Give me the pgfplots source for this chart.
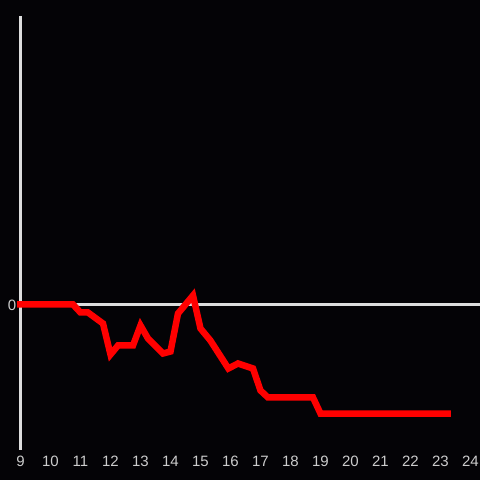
\documentclass[border=0pt]{standalone}
\usepackage{fontspec}
\setmainfont{Liberation Sans}
\usepackage{pgfplots}
\pgfplotsset{compat=1.18}
\definecolor{bg}{HTML}{040306}
\definecolor{axcol}{HTML}{DDDDDD}
\definecolor{lbl}{HTML}{CCCCCC}
\begin{document}
\begin{tikzpicture}
\useasboundingbox (-20.5pt,-30.5pt) rectangle (459.5pt,449.5pt);
\fill[bg] (-20.5pt,-30.5pt) rectangle (459.5pt,449.5pt);
\begin{axis}[
  scale only axis,width=459.5pt,height=433.5pt,
  xmin=9,xmax=24.317,ymin=-145,ymax=288.5,
  axis y line=left,axis x line=bottom,
  x axis line style={draw=none,-},
  y axis line style={draw=axcol,line width=3pt,-},
  xtick={9,...,24},ytick={0},
  major tick length=0pt,
  ymajorgrids,major grid style={draw=axcol,line width=3pt},
  tick label style={text=lbl,font=\fontsize{15}{17}\selectfont},
  /pgf/number format/assume math mode=true,
  xticklabel style={anchor=center,yshift=-11.5pt},
  yticklabel style={anchor=center,xshift=-8.5pt,yshift=-1pt},
  clip=false,
]
\addplot[draw={rgb,255:red,255;green,0;blue,0},line width=6.5pt,line join=miter,line cap=rect] coordinates {
(9,0)(10.75,0)(11,-8)(11.25,-8)(11.75,-19)(12,-50)(12.25,-41)(12.75,-41)(13,-21)(13.25,-34)(13.75,-49)(14,-47)(14.25,-9)(14.75,9)(15,-24)(15.33,-36)(15.93,-64)(16.25,-59)(16.75,-64)(17,-86)(17.25,-93)(18.75,-93)(19,-109)(23.24,-109)};
\end{axis}
\end{tikzpicture}
\end{document}
